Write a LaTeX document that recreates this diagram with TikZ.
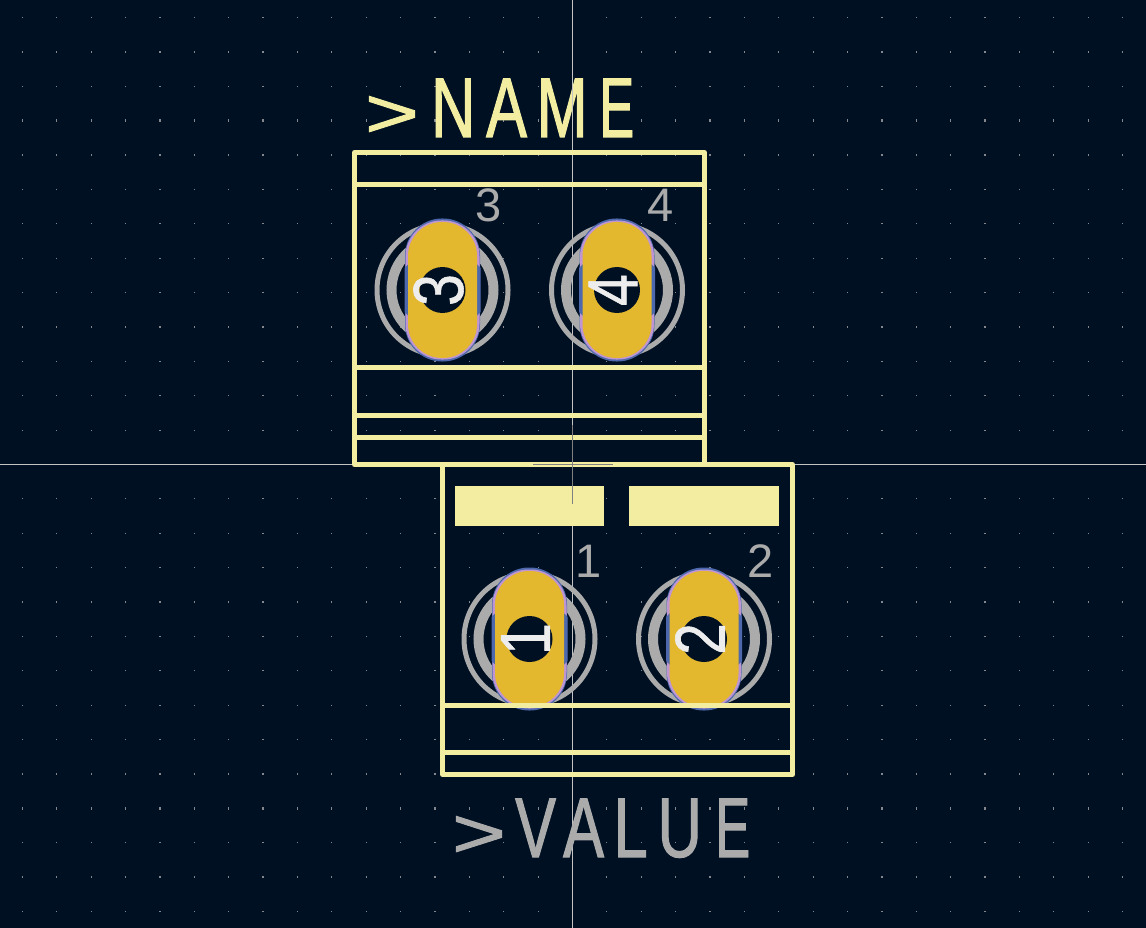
\documentclass[tikz,border=0pt]{standalone}
\usepackage{fontspec}
\usepackage{graphicx}
\newfontfamily\silkfont[FakeStretch=0.72,FakeBold=1.2]{Liberation Sans}
\newfontfamily\padfont{Liberation Sans}
\newfontfamily\holefont[FakeStretch=0.8,FakeBold=0.8]{Liberation Sans}
\newcommand{\silkgl}[2]{\makebox[#1pt][l]{#2}}
\newcommand{\silkgt}{\scalebox{1.5}[0.82]{>}}
\newcommand{\silke}{\scalebox{0.86}[1]{E}}
\definecolor{board}{HTML}{001023}
\definecolor{silk}{HTML}{F2EDA1}
\definecolor{fab}{HTML}{ABABAB}
\definecolor{copper}{HTML}{E3B72E}
\definecolor{backcu}{HTML}{4D68AD}
\definecolor{mask}{HTML}{BF96D2}
\definecolor{griddot}{HTML}{84888E}
\definecolor{crossline}{HTML}{C4C4C4}
\tikzstyle{silkline} = [silk, line width=5pt, line join=round]
\tikzstyle{crosshair} = [crossline, line width=1pt]
\tikzstyle{anchormark} = [gray, line width=1pt]
\tikzstyle{padnum} = [fab, inner sep=0pt, font=\padfont\fontsize{47}{47}\selectfont]
\tikzstyle{holenum} = [white!93!black, inner sep=0pt, rotate=90, font=\holefont\fontsize{71}{71}\selectfont]
\tikzstyle{refdes} = [anchor=base west, inner sep=0pt, font=\silkfont\fontsize{85}{85}\selectfont]
\begin{document}
\begin{tikzpicture}[x=1pt,y=-1pt]
	\useasboundingbox (0,0) rectangle (1146,928);
	\fill[board] (0,0) rectangle (1146,928);
	% grid dots
	\foreach \i in {-16,...,16}
		\foreach \j in {-13,...,13} {
			\pgfmathsetmacro{\gx}{572.5+34.38*\i}
			\pgfmathsetmacro{\gy}{464.5+34.38*\j}
			\fill[griddot] (\gx-0.6,\gy-0.6) rectangle (\gx+0.6,\gy+0.6);
		}
	\foreach \i in {-16,...,16}
		\foreach \j in {-10,10} {
			\pgfmathsetmacro{\gx}{572.5+34.38*\i}
			\pgfmathsetmacro{\gy}{464.5+34.38*\j}
			\fill[griddot] (\gx-0.6,\gy-1.2) rectangle (\gx+0.6,\gy+1.2);
		}
	\draw[crosshair] (572.5,0)--(572.5,928);
	\draw[crosshair] (0,464.5)--(1146,464.5);
	% pads
	\foreach \px/\py/\pn/\lx/\ly in {442.5/290/3/489/205,617/290/4/661/205,529.5/639/1/589/561.5,704/639/2/760.5/561.5} {
		\begin{scope}[shift={(\px,\py)}]
			\draw[fab, line width=5pt] (0,0) circle (65.5);
			\draw[fab, line width=10pt] (0,0) circle (51);
			\fill[backcu, rounded corners=37pt] (-37.5,-71.5) rectangle (37.5,71.5);
			\fill[mask, rounded corners=36pt] (-37,-69.5) rectangle (37,69.5);
			\fill[backcu] (-38,-22)--(-34,-26)--(34,-26)--(38,-22)--(38,22)--(34,26)--(-34,26)--(-38,22)--cycle;
			\fill[copper, rounded corners=34pt] (-34.5,-68) rectangle (34.5,68);
			\fill[board] (0,0) circle (23);
			\node[holenum] (hole\pn) at (-4,0) {\pn};
		\end{scope}
		\node[padnum] (num\pn) at (\lx,\ly) {\pn};
	}
	% upper part
	\draw[silkline] (354.5,152.5) rectangle (704.5,464.5);
	\draw[silkline] (354.5,185)--(704.5,185);
	\draw[silkline] (354.5,367)--(704.5,367);
	\draw[silkline] (354.5,415)--(704.5,415);
	\draw[silkline] (354.5,437.5)--(704.5,437.5);
	% lower part
	\draw[silkline] (442.5,464.5) rectangle (792.5,774.5);
	\draw[silkline] (442.5,705)--(792.5,705);
	\draw[silkline] (442.5,752.5)--(792.5,752.5);
	\fill[silk] (455,486) rectangle (604,526);
	\fill[silk] (629,486) rectangle (779,526);
	\draw[anchormark] (533,464.5)--(613,464.5);
	\draw[anchormark] (572.5,424.5)--(572.5,503.5);
	% texts
	\node[refdes, silk] (name) at (365,137) {\silkgl{66}{\silkgt}\silkgl{55}{N}\silkgl{50.5}{A}\silkgl{62.5}{M}\silke};
	\node[refdes, fab] (value) at (452,857) {\silkgl{63}{\silkgt}\silkgl{48}{V}\silkgl{50.5}{A}\silkgl{44}{L}\silkgl{57.5}{U}\silke};
	\draw[crosshair] (572.5,70)--(572.5,140);
\end{tikzpicture}
\end{document}
